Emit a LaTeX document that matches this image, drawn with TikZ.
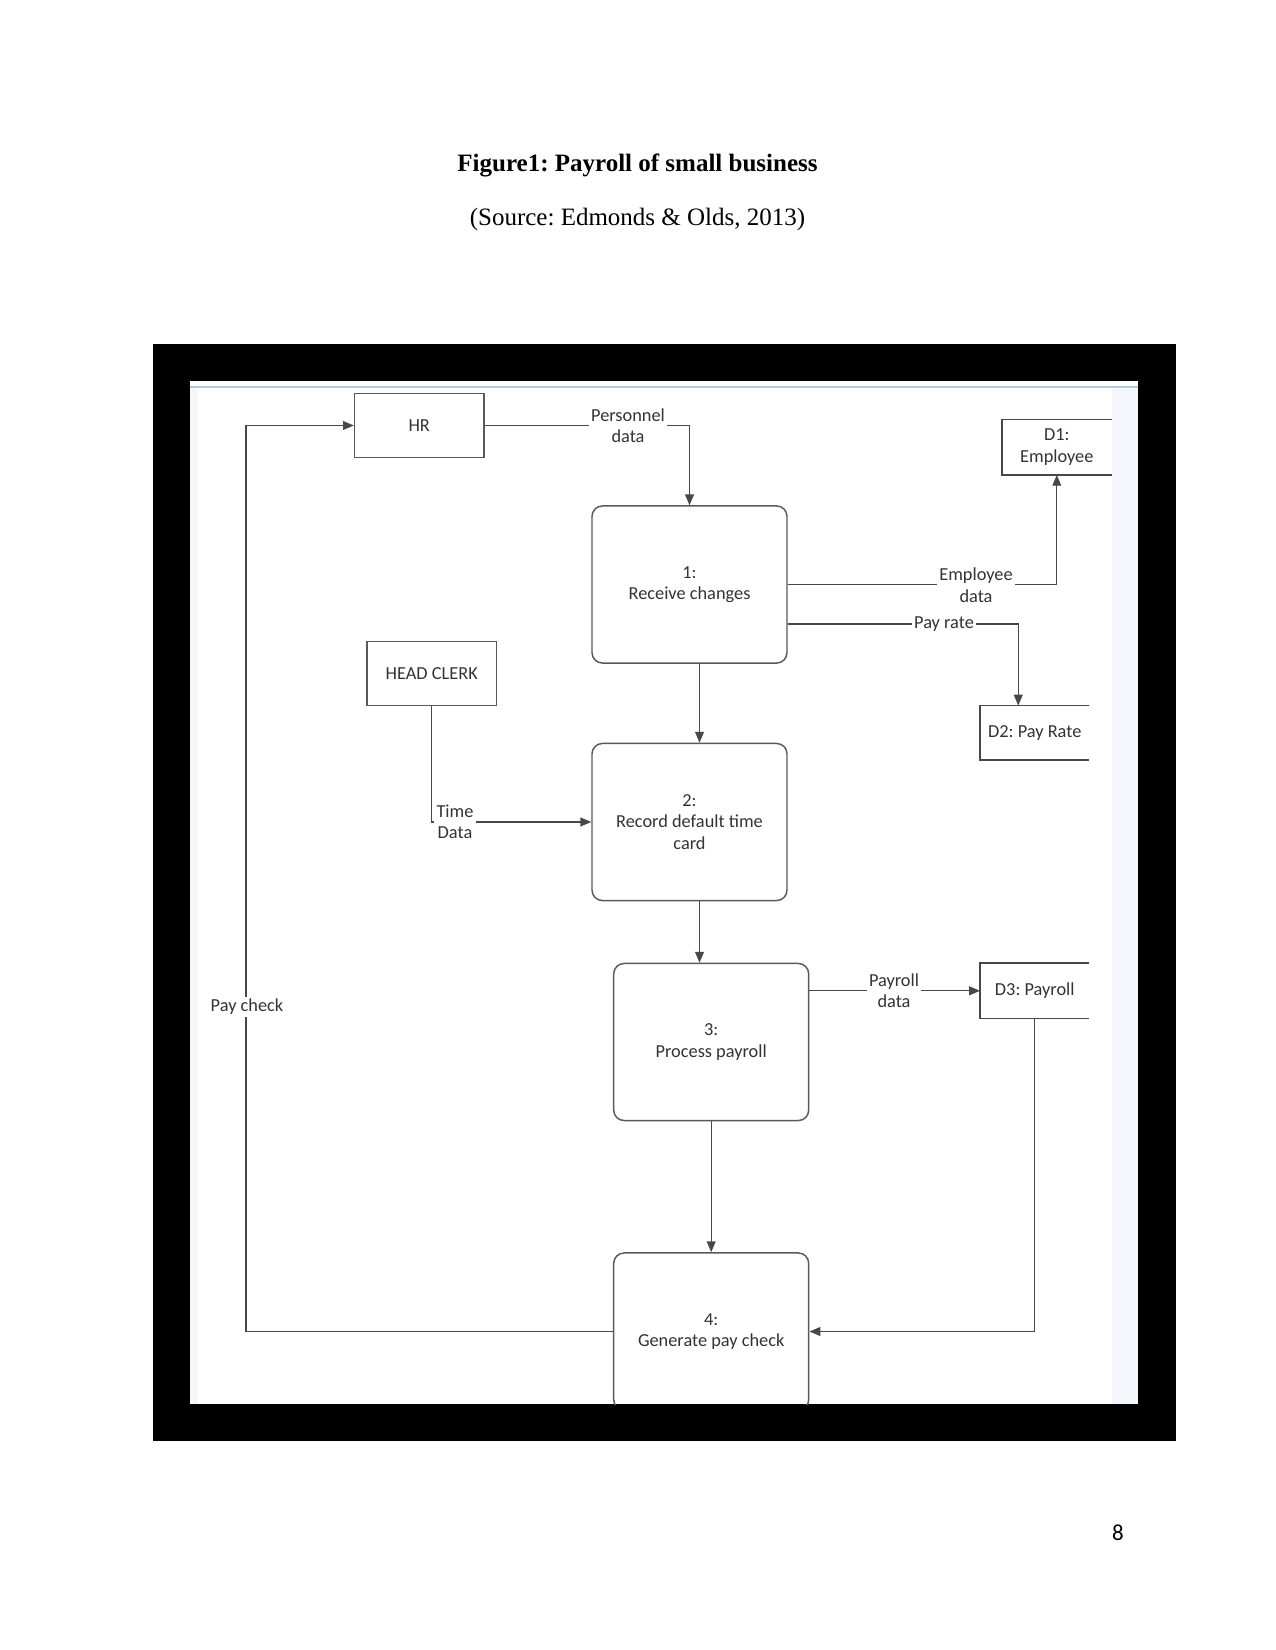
\documentclass[tikz,border=0pt]{standalone}
\usepackage{fontspec}
\setmainfont{Liberation Serif}
\newfontfamily\dfont{Carlito}
\usetikzlibrary{arrows.meta,calc}
\frenchspacing
\begin{document}
\begin{tikzpicture}[x=0.48pt,y=-0.48pt,
  dtext/.style={font=\dfont\fontsize{8.8}{10.3}\selectfont, text=black!80},
  line/.style={draw=black!72, line width=0.65pt},
  flow/.style={line, -{Triangle[length=5.2pt,width=4.2pt]}},
  proc/.style={dtext, draw=black!65, line width=0.7pt, rounded corners=5pt, minimum width=93.6pt, minimum height=75.4pt, align=center, inner sep=0pt},
  ent/.style={dtext, draw=black!65, line width=0.6pt, minimum width=62.2pt, minimum height=31pt, inner sep=0pt},
  store/.style={dtext, minimum width=52.1pt, minimum height=26.2pt, inner sep=0pt, align=center},
  lbl/.style={dtext, fill=white, inner sep=1pt, align=center}
]
\useasboundingbox (0,0) rectangle (1275,1650);
\fill[white] (0,0) rectangle (1275,1650);
\node[font=\bfseries\fontsize{12}{14}\selectfont] (title) at (637.5,165) {Figure1: Payroll of small business};
\node[font=\fontsize{12}{14}\selectfont] (src) at (637.5,219) {(Source: Edmonds \& Olds, 2013)};
\fill[black] (152.5,344) rectangle (1176,1441);
\fill[white] (190.4,381) rectangle (1138,1404);
\fill[color={rgb,255:red,243;green,246;blue,250}] (1112,389) rectangle (1138,1404);
\fill[color={rgb,255:red,245;green,248;blue,251}] (190.4,389) rectangle (198,1404);
\draw[color={rgb,255:red,180;green,200;blue,222}, line width=1.2pt] (190.4,387) -- (1138,387);
\begin{scope}
\clip (190.4,381) rectangle (1138,1404);
% nodes
\node[ent] (hr) at (419.25,425.5) {HR};
\node[ent] (hc) at (431.75,673.5) {HEAD CLERK};
\node[proc] (p1) at (689.5,584.5) {1:\\Receive changes};
\node[proc] (p2) at (689.5,822) {2:\\Record default time\\card};
\node[proc] (p3) at (711.2,1042) {3:\\Process payroll};
\node[proc] (p4) at (711.2,1331.5) {4:\\Generate pay check};
\node[store] (d1) at (1056.8,447.2) {D1:\\Employee};
\node[store, minimum height=25.7pt] (d2) at (1034.75,732.75) {D2: Pay Rate};
\node[store] (d3) at (1034.75,990.8) {D3: Payroll};
\draw[line] (d1.north east) -- (d1.north west) -- (d1.south west) -- (d1.south east);
\draw[line] (d2.north east) -- (d2.north west) -- (d2.south west) -- (d2.south east);
\draw[line] (d3.north east) -- (d3.north west) -- (d3.south west) -- (d3.south east);
% connectors
\draw[flow] (hr.east) -- (hr.east -| p1.north) -- (p1.north);
\draw[flow] (p1.east) -- (p1.east -| d1.south) -- (d1.south);
\coordinate (pr) at ($(p1.east)+(0,39.5)$);
\coordinate (d2in) at ($(d2.north)+(-16.5,0)$);
\draw[flow] (pr) -- (pr -| d2in) -- (d2in);
\coordinate (c12) at ($(p1.south)+(10,0)$);
\draw[flow] (c12) -- (c12 |- p2.north);
\draw[flow] (hc.south) |- (p2.west);
\coordinate (c23) at ($(p2.south)+(10,0)$);
\draw[flow] (c23) -- (c23 |- p3.north);
\draw[flow] (p3.east |- d3.west) -- (d3.west);
\draw[flow] (p3.south) -- (p4.north);
\draw[flow] (d3.south) |- (p4.east);
\coordinate (lft) at (246,1331.5);
\draw[flow] (p4.west) -- (p4.west -| lft) |- (hr.west);
% labels
\node[lbl] (l1) at (628,425.5) {Personnel\\data};
\node[lbl] (l2) at (976,585) {Employee\\data};
\node[lbl] (l3) at (944,624) {Pay rate};
\node[lbl] (l4) at (455,821.5) {Time\\Data};
\node[lbl] (l5) at (894,990.5) {Payroll\\data};
\node[lbl] (l6) at (247,1007) {Pay check};
\end{scope}
\node[font=\dfont\fontsize{11}{13}\selectfont] (pg) at (1118,1533) {8};
\end{tikzpicture}
\end{document}
